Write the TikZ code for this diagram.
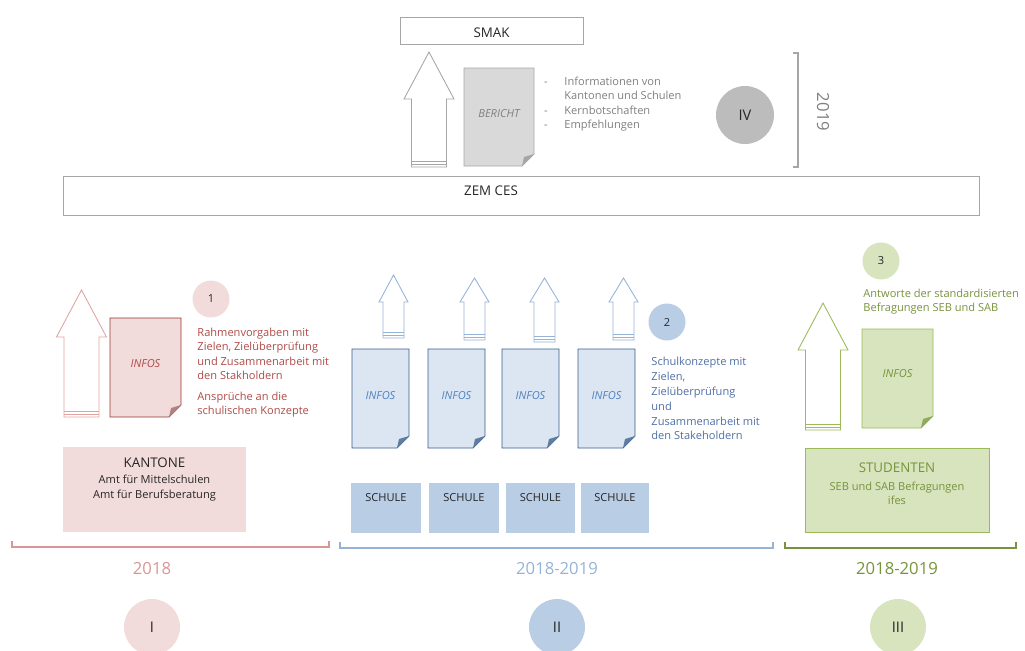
\documentclass[tikz,border=0pt]{standalone}
\usepackage{fontspec}
\setmainfont{Open Sans}
\definecolor{redfill}{HTML}{F2DCDB}
\definecolor{redline}{HTML}{E0A3A2}
\definecolor{reddark}{HTML}{953735}
\definecolor{redtext}{HTML}{B04A48}
\definecolor{redyear}{HTML}{D99694}
\definecolor{bluefill}{HTML}{DCE6F2}
\definecolor{bluemid}{HTML}{B9CDE5}
\definecolor{blueline}{HTML}{95B3D7}
\definecolor{bluedark}{HTML}{385D8A}
\definecolor{bluetext}{HTML}{4F6FA8}
\definecolor{blueinfo}{HTML}{4F81BD}
\definecolor{greenfill}{HTML}{D7E4BD}
\definecolor{greenline}{HTML}{9BBB59}
\definecolor{greentext}{HTML}{77933C}
\definecolor{grayline}{HTML}{A6A6A6}
\definecolor{grayfill}{HTML}{D9D9D9}
\definecolor{graytext}{HTML}{808080}
\definecolor{inktext}{HTML}{262626}
% block arrow: x, tip, wings, foot, half shaft, half head, colour
\newcommand\infoarrow[7]{%
  \draw[#7,fill=white] (#1,#2) -- (#1+#6,#3) -- (#1+#5,#3) -- (#1+#5,#4)
    -- (#1-#5,#4) -- (#1-#5,#3) -- (#1-#6,#3) -- cycle;
  \draw[#7] (#1-#5,#4-3) -- (#1+#5,#4-3) (#1-#5,#4-6) -- (#1+#5,#4-6);}
% sheet with folded corner: x1, y1, x2, y2, fill/draw, fold colour
\newcommand\docsheet[6]{%
  \filldraw[#5] (#1,#2) -- (#3,#2) -- (#3,#4-12) -- (#3-12,#4) -- (#1,#4) -- cycle;
  \fill[#6] (#3,#4-12) -- (#3-12,#4) -- (#3-10,#4-9) -- cycle;}
\begin{document}
\begin{tikzpicture}[x=0.75pt,y=-0.75pt,line width=0.65pt,
  small/.style={font=\fontsize{8.3}{10}\selectfont,inner sep=0pt},
  big/.style={font=\fontsize{10}{12}\selectfont,inner sep=0pt},
  year/.style={font=\fontsize{12.5}{14}\selectfont,inner sep=0pt},
  numdot/.style={circle,minimum size=#1*0.75pt,inner sep=0pt,text=inktext,font=\fontsize{8.3}{10}\selectfont},
  phase/.style={numdot=#1,font=\fontsize{11}{12}\selectfont}]
  \useasboundingbox (0,0) rectangle (1025,650);
  % top: SMAK and report
  \draw[grayline] (400,17) rectangle (583,44);
  \node[big,anchor=base,text=inktext] (smak) at (491.5,37) {SMAK};
  \infoarrow{429}{52}{99}{167}{17.5}{25}{grayline}
  \docsheet{464}{68}{534}{166}{fill=grayfill,draw=grayline}{grayline}
  \node[small,anchor=base,text=graytext] (bericht) at (499,117) {\itshape BERICHT};
  \foreach \yy in {85,114,128}
    \node[small,anchor=base,text=graytext] at (546,\yy) {-};
  \foreach \tt [count=\i] in {Informationen von,Kantonen und Schulen,Kernbotschaften,Empfehlungen}
    \node[small,anchor=base west,text=graytext] (smaktxt\i) at (564,70.5+14.5*\i) {\tt};
  \node[phase=58,fill=grayline!75] (four) at (745,115) {IV};
  \draw[grayline,line width=1pt] (793,53) -- (798,53) -- (798,167) -- (793,167);
  \node[year,rotate=-90,text=graytext] (y2019) at (823,112) {2019};
  % ZEM CES
  \draw[grayline] (63,176) rectangle (979,215);
  \node[big,anchor=base,text=inktext] (zem) at (491,195) {ZEM CES};
  % Kantone
  \infoarrow{81.5}{290}{337}{417}{17.5}{25}{redline}
  \docsheet{110}{318}{181}{417}{fill=redfill,draw=reddark}{redline!80!black}
  \node[small,anchor=base,text=redtext] (infosk) at (145.5,367) {\itshape INFOS};
  \node[numdot=37,fill=redfill] (one) at (211,299) {1};
  \foreach \tt [count=\i] in {Rahmenvorgaben mit,{Zielen, Zielüberprüfung},und Zusammenarbeit mit,den Stakholdern}
    \node[small,anchor=base west,text=redtext] (ktxt\i) at (197,321.5+14.5*\i) {\tt};
  \foreach \tt [count=\i] in {Ansprüche an die,schulischen Konzepte}
    \node[small,anchor=base west,text=redtext] (kant\i) at (197,385.5+14.5*\i) {\tt};
  \fill[redfill] (63,447) rectangle (246,532);
  \node[big,anchor=base,text=inktext] (kantone) at (154.5,467.5) {KANTONE};
  \node[small,anchor=base,text=inktext] (amt1) at (154.5,483) {Amt für Mittelschulen};
  \node[small,anchor=base,text=inktext] (amt2) at (154.5,498) {Amt für Berufsberatung};
  % Schulen
  \foreach \cx/\tp/\bt in {393.5/275/338,474.5/278/340,544.5/278/342,623.5/278/340}
    \infoarrow{\cx}{\tp}{302}{\bt}{10.5}{14.5}{blueline};
  \foreach \xa/\xb [count=\i] in {352/409,428/485,502/559,578/635}{
    \docsheet{\xa}{349}{\xb}{448}{fill=bluefill,draw=bluedark}{bluedark!80}
    \node[small,anchor=base,text=blueinfo] (infos\i) at ({(\xa+\xb)/2},399) {\itshape INFOS};
  }
  \foreach \xa/\xb [count=\i] in {351/421,429/499,506/575,581/649}{
    \fill[bluemid] (\xa,483) rectangle (\xb,533);
    \node[small,anchor=base,text=inktext] (schule\i) at ({(\xa+\xb)/2},501) {SCHULE};
  }
  \node[numdot=37,fill=bluemid] (two) at (667,322) {2};
  \foreach \tt [count=\i] in {Schulkonzepte mit,{Zielen,},Zielüberprüfung,und,Zusammenarbeit mit,den Stakeholdern}
    \node[small,anchor=base west,text=bluetext] (stxt\i) at (651,351+14.8*\i) {\tt};
  % Studenten
  \node[numdot=37,fill=greenfill] (three) at (881,261) {3};
  \node[small,anchor=base west,text=greentext] (atxt1) at (863,297) {Antworte der standardisierten};
  \node[small,anchor=base west,text=greentext] (atxt2) at (863,311) {Befragungen SEB und SAB};
  \infoarrow{823}{303}{350}{430}{17.5}{25}{greenline}
  \docsheet{862}{329}{933}{428}{fill=greenfill,draw=greenline}{greentext!80}
  \node[small,anchor=base,text=greentext] (infoss) at (897.5,377) {\itshape INFOS};
  \filldraw[fill=greenfill,draw=greenline] (805,448) rectangle (989,532);
  \node[big,anchor=base,text=greentext] (studenten) at (897,472) {STUDENTEN};
  \node[small,anchor=base,text=greentext] (seb) at (897,490) {SEB und SAB Befragungen};
  \node[small,anchor=base,text=greentext] (ifes) at (897,504) {ifes};
  % Zeitachse
  \draw[redyear,line width=1pt] (12,541) -- (12,547) -- (329,547) -- (329,541);
  \draw[blueline,line width=1pt] (340,542) -- (340,548) -- (773,548) -- (773,542);
  \draw[greentext,line width=1pt] (785,542) -- (785,548) -- (1016,548) -- (1016,542);
  \node[year,anchor=base,text=redyear] (y1) at (152,574) {2018};
  \node[year,anchor=base,text=blueline] (y2) at (557,574) {2018-2019};
  \node[year,anchor=base,text=greentext] (y3) at (897,574) {2018-2019};
  \node[phase=56,fill=redfill] (ph1) at (152,627) {I};
  \node[phase=56,fill=bluemid] (ph2) at (557,627) {II};
  \node[phase=56,fill=greenfill] (ph3) at (898,627) {III};
\end{tikzpicture}
\end{document}
